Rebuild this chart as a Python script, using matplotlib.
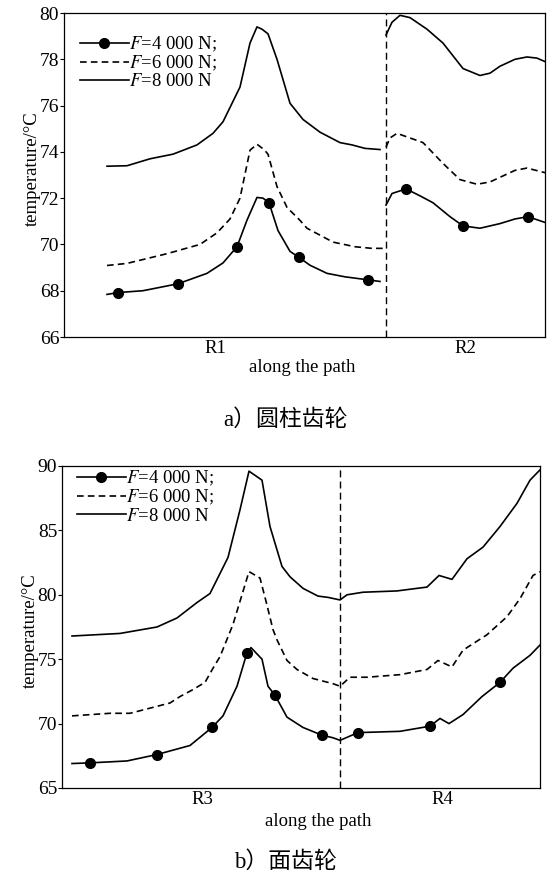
"""Temperature along the meshing path, cylindrical gear (a) vs face gear (b)."""
import numpy as np
import matplotlib
matplotlib.use('Agg')
from matplotlib import pyplot as plt
from matplotlib.ticker import MultipleLocator

plt.rcParams['font.family'] = ['Liberation Serif', 'DejaVu Serif']
plt.rcParams['mathtext.fontset'] = 'stix'

LABELS = ['$F$=4 000 N;', '$F$=6 000 N;', '$F$=8 000 N']

# --- a) cylindrical gear, path position in arbitrary units (0..481) ---
A_XMAX = 481
A_SPLIT = 322
A_REGIONS = ['R1', 'R2']
A_REGION_POS = [151, 401]

a_x8_r1 = [43, 63, 86, 109, 133, 149, 159, 176, 186, 193, 198, 204, 213, 226, 239, 256, 276, 288, 301, 316]
a_t8_r1 = [73.38, 73.4, 73.7, 73.9, 74.3, 74.8, 75.3, 76.8, 78.7, 79.4, 79.3, 79.1, 78.0, 76.1, 75.4, 74.85,
           74.4, 74.3, 74.15, 74.1]
a_x8_r2 = [322, 328, 336, 346, 363, 379, 399, 416, 426, 436, 451, 463, 473, 481]
a_t8_r2 = [79.05, 79.6, 79.9, 79.8, 79.3, 78.7, 77.6, 77.3, 77.4, 77.7, 78.0, 78.1, 78.05, 77.9]

a_x6_r1 = [43, 63, 103, 136, 153, 166, 176, 186, 193, 200, 204, 213, 223, 236, 243, 269, 291, 308, 321]
a_t6_r1 = [69.09, 69.18, 69.6, 70.0, 70.5, 71.1, 72.0, 74.07, 74.33, 74.1, 73.9, 72.5, 71.6, 71.04, 70.7,
           70.1, 69.9, 69.83, 69.83]
a_x6_r2 = [322, 326, 333, 346, 359, 379, 396, 413, 426, 436, 451, 463, 481]
a_t6_r2 = [74.2, 74.6, 74.8, 74.6, 74.4, 73.5, 72.8, 72.6, 72.7, 72.9, 73.2, 73.3, 73.1]

a_x4_r1 = [43, 54, 79, 114, 143, 159, 173, 183, 193, 199, 205, 214, 226, 235, 246, 263, 281, 304, 316]
a_t4_r1 = [67.84, 67.92, 68.0, 68.3, 68.75, 69.2, 69.9, 71.05, 72.03, 72.0, 71.8, 70.6, 69.7, 69.44, 69.1,
           68.75, 68.6, 68.47, 68.4]
a_m4_r1 = [1, 3, 6, 10, 13, 17]
a_x4_r2 = [322, 328, 342, 356, 369, 386, 399, 416, 436, 451, 464, 481]
a_t4_r2 = [71.7, 72.2, 72.4, 72.1, 71.8, 71.2, 70.8, 70.7, 70.9, 71.1, 71.2, 70.95]
a_m4_r2 = [2, 6, 10]

# --- b) face gear, path position in arbitrary units (0..478) ---
B_XMAX = 478
B_SPLIT = 278
B_REGIONS = ['R3', 'R4']
B_REGION_POS = [140, 380]

b_x8 = [10, 58, 95, 115, 135, 148, 166, 178, 187, 200, 208, 220, 228, 241, 256, 266, 278, 285, 301, 335,
        365, 377, 390, 405, 421, 438, 455, 468, 478]
b_t8 = [76.8, 77.0, 77.5, 78.2, 79.4, 80.1, 82.9, 86.6, 89.6, 88.9, 85.3, 82.2, 81.4, 80.5, 79.9, 79.8,
        79.6, 80.0, 80.2, 80.3, 80.6, 81.5, 81.2, 82.8, 83.7, 85.3, 87.1, 88.9, 89.7]

b_x6 = [10, 48, 68, 88, 108, 118, 130, 143, 151, 158, 171, 187, 198, 204, 211, 215, 225, 235, 251, 271,
        278, 288, 305, 338, 365, 376, 390, 401, 425, 445, 458, 471, 478]
b_t6 = [70.6, 70.8, 70.8, 71.2, 71.6, 72.1, 72.6, 73.2, 74.3, 75.2, 77.7, 81.8, 81.3, 79.5, 77.3, 76.5,
        74.9, 74.2, 73.5, 73.1, 72.9, 73.6, 73.6, 73.8, 74.2, 74.9, 74.4, 75.7, 76.9, 78.3, 79.7, 81.5, 81.8]

b_x4 = [10, 28, 65, 95, 128, 150, 161, 175, 185, 189, 200, 206, 213, 225, 241, 260, 271, 278, 296, 338,
        368, 378, 387, 401, 420, 438, 451, 468, 478]
b_t4 = [66.9, 66.95, 67.1, 67.6, 68.3, 69.7, 70.6, 72.9, 75.5, 75.9, 75.0, 72.9, 72.2, 70.5, 69.7, 69.1,
        68.9, 68.7, 69.3, 69.4, 69.8, 70.4, 70.0, 70.7, 72.1, 73.2, 74.3, 75.3, 76.1]
b_m4 = [1, 3, 5, 8, 12, 15, 18, 20, 25]

LW = 1.2
DASH = (0, (4, 2.5))
MS = 7
CJK = ['Liberation Serif', 'Noto Sans CJK SC']


def style_axes(ax, xmax, split, regions, region_pos, ylim, ystep, legend_anchor):
    ax.set_xlim(0, xmax)
    ax.set_ylim(*ylim)
    ax.axvline(split, color='black', lw=1.0, linestyle=(0, (5, 3)))
    ax.set_xticks(region_pos)
    ax.set_xticklabels(regions, fontsize=13.5)
    ax.tick_params(axis='x', length=0, pad=2)
    ax.yaxis.set_major_locator(MultipleLocator(ystep))
    ax.tick_params(axis='y', direction='out', length=3, labelsize=14, pad=0.5)
    for spine in ax.spines.values():
        spine.set_linewidth(0.9)
    ax.set_ylabel('temperature/°C', fontsize=13.5, labelpad=0)
    ax.legend(loc='upper left', frameon=False, fontsize=13.5, handlelength=2.6,
              handletextpad=0.0, labelspacing=0.0, borderaxespad=0.0, borderpad=0.0,
              bbox_to_anchor=legend_anchor)


fig = plt.figure(figsize=(5.51, 8.74), dpi=100)

# a) cylindrical gear
ax = fig.add_axes([64 / 551, 1 - 337 / 874, 481 / 551, 324 / 874])
ax.plot(a_x4_r1, a_t4_r1, color='black', lw=LW, marker='o', ms=MS, markevery=a_m4_r1, label=LABELS[0])
ax.plot(a_x4_r2, a_t4_r2, color='black', lw=LW, marker='o', ms=MS, markevery=a_m4_r2)
ax.plot(a_x6_r1, a_t6_r1, color='black', lw=LW, linestyle=DASH, label=LABELS[1])
ax.plot(a_x6_r2, a_t6_r2, color='black', lw=LW, linestyle=DASH)
ax.plot(a_x8_r1, a_t8_r1, color='black', lw=LW, label=LABELS[2])
ax.plot(a_x8_r2, a_t8_r2, color='black', lw=LW)
style_axes(ax, A_XMAX, A_SPLIT, A_REGIONS, A_REGION_POS, (66, 80), 2, (0.033, 0.932))
ax.yaxis.set_label_coords(-0.048, 0.52)

fig.text(302 / 551, 1 - 368 / 874, 'along the path', ha='center', va='center', fontsize=13.5)
fig.text(285 / 551, 1 - 420 / 874, 'a）圆柱齿轮', ha='center', va='center', fontsize=16.5, family=CJK)

# b) face gear
ax = fig.add_axes([62 / 551, 1 - 788 / 874, 478 / 551, 322 / 874])
ax.plot(b_x4, b_t4, color='black', lw=LW, marker='o', ms=MS, markevery=b_m4, label=LABELS[0])
ax.plot(b_x6, b_t6, color='black', lw=LW, linestyle=DASH, label=LABELS[1])
ax.plot(b_x8, b_t8, color='black', lw=LW, label=LABELS[2])
style_axes(ax, B_XMAX, B_SPLIT, B_REGIONS, B_REGION_POS, (65, 90), 5, (0.031, 0.99))
ax.yaxis.set_label_coords(-0.048, 0.49)

fig.text(318 / 551, 1 - 822 / 874, 'along the path', ha='center', va='center', fontsize=13.5)
fig.text(285 / 551, 1 - 862 / 874, 'b）面齿轮', ha='center', va='center', fontsize=16.5, family=CJK)

fig.savefig('out.png', dpi=100, facecolor='white')
